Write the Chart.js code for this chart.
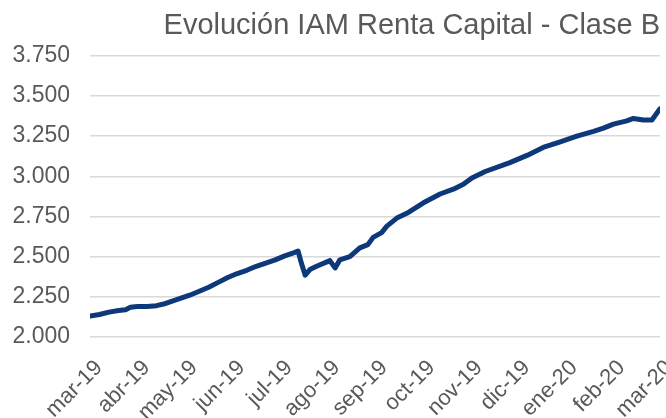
<!DOCTYPE html>
<html>
<head>
<meta charset="utf-8">
<script src="https://cdn.jsdelivr.net/npm/chart.js@4"></script>
<style>
  html, body { margin: 0; padding: 0; background: #fff; }
  #wrap { width: 666px; height: 418px; }
</style>
</head>
<body>
<div id="wrap"><canvas id="grafico" width="666" height="418"></canvas></div>
<script>
// etiquetas mensuales del eje x
const meses = ["mar-19", "abr-19", "may-19", "jun-19", "jul-19", "ago-19", "sep-19",
  "oct-19", "nov-19", "dic-19", "ene-20", "feb-20", "mar-20"];

// posición de cada punto (en meses desde mar-19) y valor cuota
const tiempo = [0.00, 0.20, 0.40, 0.60, 0.75, 0.85, 1.00, 1.20, 1.40, 1.55, 1.70, 1.90,
  2.10, 2.30, 2.50, 2.70, 2.90, 3.10, 3.30, 3.50, 3.70, 3.90, 4.10, 4.30, 4.38,
  4.45, 4.53, 4.63, 4.77, 5.05, 5.16, 5.26, 5.47, 5.68, 5.85, 5.96, 6.14, 6.25,
  6.46, 6.67, 7.02, 7.37, 7.65, 7.86, 8.04, 8.32, 8.84, 9.20, 9.54, 9.90, 10.25,
  10.60, 10.81, 11.02, 11.30, 11.44, 11.65, 11.83, 12.00];
const valores = [2.130, 2.140, 2.155, 2.165, 2.170, 2.185, 2.190, 2.190, 2.195, 2.205, 2.220, 2.240,
  2.260, 2.285, 2.310, 2.340, 2.370, 2.395, 2.415, 2.440, 2.460, 2.480, 2.505, 2.525, 2.535,
  2.460, 2.385, 2.420, 2.440, 2.475, 2.430, 2.480, 2.500, 2.555, 2.575, 2.620, 2.650, 2.690,
  2.740, 2.770, 2.835, 2.890, 2.920, 2.950, 2.990, 3.030, 3.085, 3.130, 3.180, 3.215, 3.250,
  3.280, 3.300, 3.325, 3.345, 3.360, 3.350, 3.350, 3.420];

const gris = "#595959";
const fuente = "'Liberation Sans', Arial, sans-serif";

new Chart(document.getElementById("grafico").getContext("2d"), {
  type: "line",
  data: {
    datasets: [{
      label: "IAM Renta Capital - Clase B",
      data: tiempo.map((t, i) => ({ x: t, y: valores[i] })),
      borderColor: "#0d3879",
      borderWidth: 5,
      borderCapStyle: "round",
      borderJoinStyle: "round",
      pointRadius: 0,
      tension: 0
    }]
  },
  options: {
    responsive: false,
    animation: false,
    layout: { padding: { left: 0, right: 6, top: 0, bottom: 0 } },
    plugins: {
      legend: { display: false },
      tooltip: { enabled: false },
      title: {
        display: true,
        text: "Evolución IAM Renta Capital - Clase B",
        align: "end",
        color: gris,
        font: { family: fuente, size: 29, weight: "normal" },
        padding: { top: 9, bottom: 12 }
      }
    },
    scales: {
      x: {
        type: "linear",
        min: 0,
        max: 12,
        grid: { display: false },
        border: { display: false },
        ticks: {
          stepSize: 1,
          autoSkip: false,
          maxRotation: 45,
          minRotation: 45,
          color: gris,
          padding: 10,
          labelOffset: 9,
          font: { family: fuente, size: 22 },
          callback: v => meses[v]
        },
        afterFit: s => { s.height = 81; s.paddingLeft = 0; s.paddingRight = 0; }
      },
      y: {
        min: 2.0,
        max: 3.75,
        grid: { color: "#d9d9d9", lineWidth: 1.5, drawTicks: false },
        border: { display: false },
        ticks: {
          stepSize: 0.25,
          color: gris,
          padding: 20,
          font: { family: fuente, size: 23 },
          callback: v => v.toFixed(3)
        },
        afterFit: s => { s.width = 90; s.paddingTop = 0; s.paddingBottom = 0; }
      }
    }
  }
});
</script>
</body>
</html>
